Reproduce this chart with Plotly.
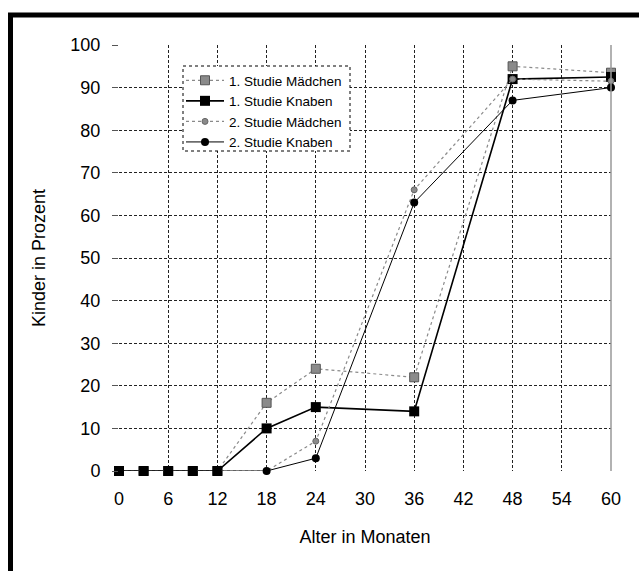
import plotly.graph_objects as go

months = [0, 3, 6, 9, 12, 18, 24, 36, 48, 60]
s1_maedchen = [0, 0, 0, 0, 0, 16, 24, 22, 95, 93.5]
s1_knaben = [0, 0, 0, 0, 0, 10, 15, 14, 92, 92.5]
s2_maedchen = [0, 0, 0, 0, 0, 0, 7, 66, 92, 91.5]
s2_knaben = [0, 0, 0, 0, 0, 0, 3, 63, 87, 90]

x_ticks = [0, 6, 12, 18, 24, 30, 36, 42, 48, 54, 60]
y_ticks = [0, 10, 20, 30, 40, 50, 60, 70, 80, 90, 100]

fig = go.Figure()
fig.add_trace(go.Scatter(
    x=months, y=s1_maedchen, name="1. Studie Mädchen", mode="lines+markers",
    line=dict(color="#8a8a8a", width=1.2, dash="dot"), cliponaxis=False,
    marker=dict(symbol="square", size=9, color="#8a8a8a", line=dict(color="#555", width=1))))
fig.add_trace(go.Scatter(
    x=months, y=s1_knaben, name="1. Studie Knaben", mode="lines+markers",
    line=dict(color="black", width=1.6), cliponaxis=False,
    marker=dict(symbol="square", size=10, color="black")))
fig.add_trace(go.Scatter(
    x=months, y=s2_maedchen, name="2. Studie Mädchen", mode="lines+markers",
    line=dict(color="#8a8a8a", width=1.2, dash="dot"), cliponaxis=False,
    marker=dict(symbol="circle", size=6, color="#8a8a8a", line=dict(color="#666", width=1))))
fig.add_trace(go.Scatter(
    x=months, y=s2_knaben, name="2. Studie Knaben", mode="lines+markers",
    line=dict(color="black", width=1), cliponaxis=False,
    marker=dict(symbol="circle", size=8, color="black")))

W, H = 639, 571
L, R, T, B = 119, 28, 45, 100
pw, ph = W - L - R, H - T - B

def px(x):
    return (x - L) / pw

def py(y):
    return (H - B - y) / ph

fig.update_layout(
    width=W, height=H,
    margin=dict(l=L, r=R, t=T, b=B),
    paper_bgcolor="white", plot_bgcolor="white",
    font=dict(family="Liberation Sans, Arial, sans-serif", color="black"),
    showlegend=True,
    legend=dict(x=px(181), y=py(65), xanchor="left", yanchor="top",
                bgcolor="rgba(0,0,0,0)", borderwidth=0, font=dict(size=13.5),
                tracegroupgap=0, itemwidth=38),
    shapes=[
        dict(type="rect", xref="paper", yref="paper",
             x0=px(183), x1=px(350), y0=py(66), y1=py(151),
             fillcolor="white",
             line=dict(color="black", width=1, dash="dot"), layer="above"),
        dict(type="line", xref="paper", yref="paper",
             x0=px(10.5), x1=px(10.5), y0=py(13), y1=py(575),
             line=dict(color="black", width=5)),
        dict(type="line", xref="paper", yref="paper",
             x0=px(8), x1=px(645), y0=py(15), y1=py(15),
             line=dict(color="black", width=5)),
        dict(type="line", xref="paper", yref="paper",
             x0=1, x1=1, y0=0, y1=1,
             line=dict(color="#999", width=1.5)),
    ],
)
fig.update_xaxes(
    range=[0, 60], tickvals=x_ticks, ticktext=[str(v) for v in x_ticks],
    showgrid=True, gridcolor="#222", griddash="3px,2px", gridwidth=1,
    zeroline=False, showline=False, ticks="", ticklabelstandoff=15,
    tickfont=dict(size=18),
    title=dict(text="Alter in Monaten", font=dict(size=18), standoff=22))
fig.update_yaxes(
    range=[0, 100], tickvals=y_ticks, ticktext=[str(v) for v in y_ticks],
    showgrid=True, gridcolor="#222", griddash="3px,2px", gridwidth=1,
    zeroline=False, showline=False, ticks="outside", ticklen=6, tickcolor="#555",
    ticklabelstandoff=8,
    tickfont=dict(size=18),
    title=dict(text="Kinder in Prozent", font=dict(size=18), standoff=20))

fig.write_html("out.html")
